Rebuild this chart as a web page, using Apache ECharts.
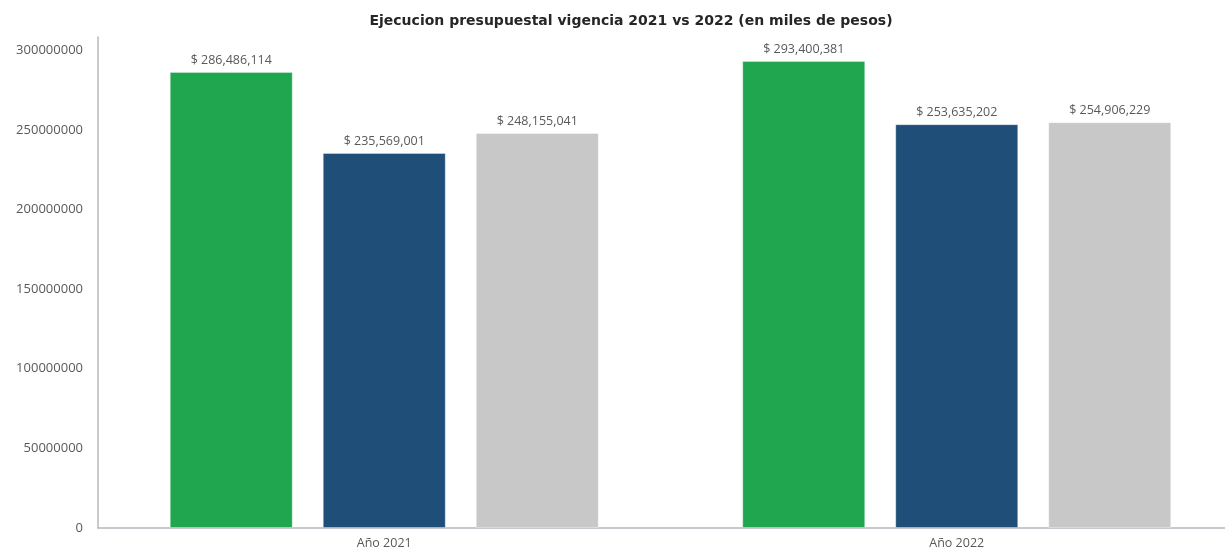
<!DOCTYPE html>
<html><head><meta charset="utf-8">
<script src="https://cdn.jsdelivr.net/npm/echarts@6/dist/echarts.min.js"></script>
<style>html,body{margin:0;padding:0;background:#fff;overflow:hidden;width:1225px;height:550px}#c{width:1243px;height:550px}</style>
</head><body><div id="c"></div>
<script>
const categories = ['Año 2021', 'Año 2022'];
const serieA = [286486114, 293400381];
const serieB = [235569001, 253635202];
const serieC = [248155041, 254906229];
const colors = ['#1fa64f', '#1f4e78', '#c8c8c8'];
const font = 'Open Sans';
const lbl = {
  show: true, position: 'top', distance: 5, color: '#595959', fontSize: 12.5, fontFamily: font,
  formatter: p => '$ ' + p.value.toLocaleString('en-US')
};
const mk = (name, data, i) => ({
  name, type: 'bar', data, barWidth: 123, barGap: '24.4%',
  itemStyle: { color: colors[i], borderColor: 'rgba(255,255,255,0.35)', borderWidth: 1 },
  label: lbl
});
const chart = echarts.init(document.getElementById('c'), null, { renderer: 'canvas' });
chart.setOption({
  animation: false,
  title: {
    text: 'Ejecucion presupuestal vigencia 2021 vs 2022 (en miles de pesos)',
    left: 626, top: 9, textAlign: 'center',
    textStyle: { fontFamily: 'DejaVu Sans', fontSize: 14, fontWeight: 'bold', color: '#262626' }
  },
  grid: { left: 98, right: 0, top: 37, bottom: 22, containLabel: false },
  xAxis: {
    type: 'category', data: categories,
    axisLine: { lineStyle: { color: '#b4b8bd', width: 1.5 } },
    axisTick: { show: false },
    axisLabel: { color: '#595959', fontSize: 12.5, fontFamily: font, margin: 9 }
  },
  yAxis: {
    type: 'value', min: 0, max: 308400000, interval: 50000000,
    axisLine: { show: true, lineStyle: { color: '#b4b8bd', width: 1.5 } },
    axisTick: { show: false },
    splitLine: { show: false },
    axisLabel: { showMaxLabel: false, color: '#595959', fontSize: 13, fontFamily: font, margin: 15,
      formatter: v => String(v) }
  },
  series: [mk('Presupuesto', serieA, 0), mk('Ejecución', serieB, 1), mk('Otro', serieC, 2)]
});
</script></body></html>
